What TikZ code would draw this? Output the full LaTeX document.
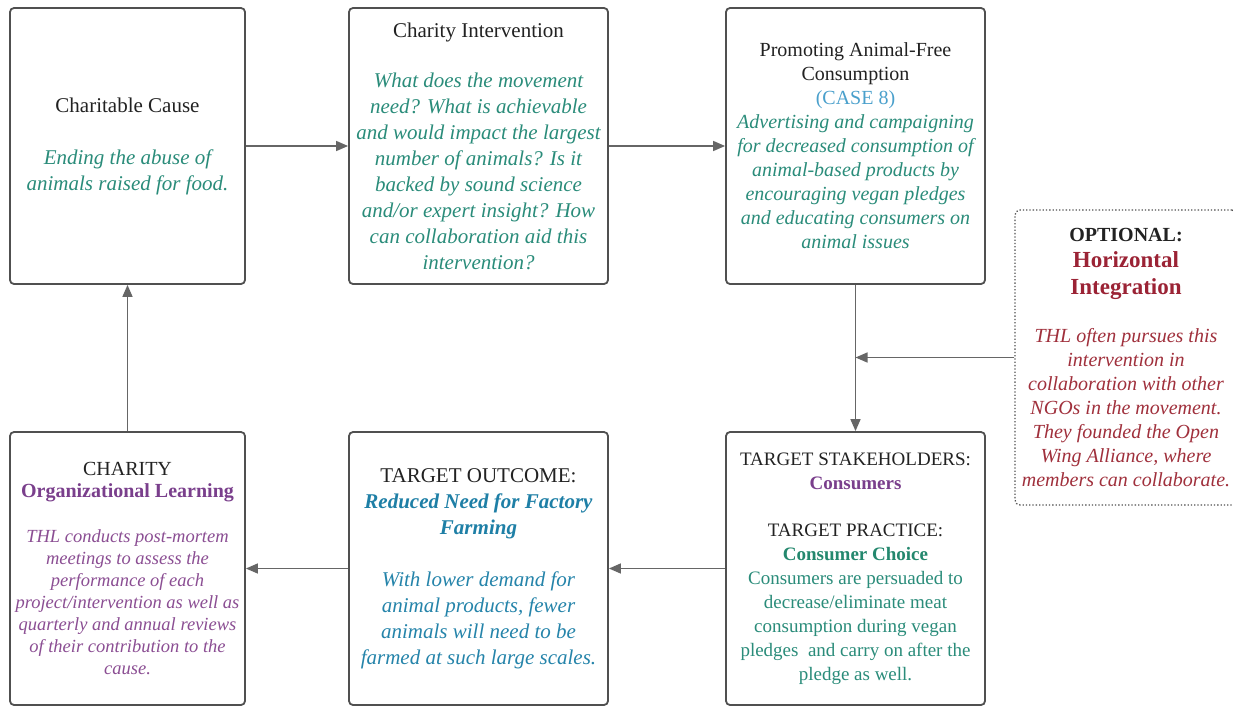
\documentclass[tikz,border=0pt]{standalone}
\usepackage{fontspec}
\setmainfont{LiberationSerif}[Extension=.ttf,
  UprightFont=*-Regular, BoldFont=*-Bold,
  ItalicFont=*-Italic, BoldItalicFont=*-BoldItalic]
\usetikzlibrary{arrows.meta}
\definecolor{boxgray}{HTML}{505050}
\definecolor{linegray}{HTML}{666666}
\definecolor{inkdark}{HTML}{222222}
\definecolor{tealtxt}{HTML}{2A8C7A}
\definecolor{tealbold}{HTML}{24886E}
\definecolor{casecol}{HTML}{4AA0CC}
\definecolor{bluebold}{HTML}{1E7FA6}
\definecolor{bluetxt}{HTML}{2584AA}
\definecolor{purplebold}{HTML}{7A3F8C}
\definecolor{purpletxt}{HTML}{8B4E93}
\definecolor{redbold}{HTML}{9B2335}
\definecolor{redtxt}{HTML}{A0303C}
\newcommand\tsz[2]{\fontsize{#1}{#2}\selectfont}
\newcommand\colit[2]{{\color{#1}\itshape #2}}
\newcommand\colbf[2]{{\color{#1}\bfseries #2}}
\newcommand\colbi[2]{{\color{#1}\bfseries\itshape #2}}
\newcommand\colup[2]{{\color{#1}#2}}
\begin{document}
\begin{tikzpicture}[x=1pt,y=-1pt,
  card/.style={draw=boxgray, line width=1.8pt, rounded corners=4pt, fill=white,
    align=center, inner sep=0pt, text=inkdark},
  optcard/.style={draw=boxgray, line width=1.3pt, dotted, rounded corners=5pt,
    fill=white, align=center, inner sep=0pt, text=inkdark},
  flow/.style={draw=linegray, line width=1.5pt, -{Triangle[length=12pt,width=10pt]}},
  widecard/.style={card, minimum width=259pt},
  narrowcard/.style={card, minimum width=235pt}]
\useasboundingbox (0,0) rectangle (1233,707);
\clip (0,0) rectangle (1233,707);
\fill[white] (0,0) rectangle (1233,707);

% top row
\node[narrowcard, minimum height=276pt, font=\tsz{21}{26}] (cause) at (127.5,146) {%
  Charitable Cause\\[26pt]
  \colit{tealtxt}{Ending the abuse of}\\
  \colit{tealtxt}{animals raised for food.}};

\node[widecard, minimum height=276pt, font=\tsz{21}{26}] (interv) at (478.5,146) {%
  Charity Intervention\\[24pt]
  \colit{tealtxt}{What does the movement}\\
  \colit{tealtxt}{need? What is achievable}\\
  \colit{tealtxt}{and would impact the largest}\\
  \colit{tealtxt}{number of animals? Is it}\\
  \colit{tealtxt}{backed by sound science}\\
  \colit{tealtxt}{and/or expert insight? How}\\
  \colit{tealtxt}{can collaboration aid this}\\
  \colit{tealtxt}{intervention?}};

\node[widecard, minimum height=276pt, font=\tsz{20}{24}] (promo) at (855.5,146) {%
  Promoting Animal-Free\\
  Consumption\\
  \colup{casecol}{(CASE 8)}\\
  \colit{tealtxt}{Advertising and campaigning}\\
  \colit{tealtxt}{for decreased consumption of}\\
  \colit{tealtxt}{animal-based products by}\\
  \colit{tealtxt}{encouraging vegan pledges}\\
  \colit{tealtxt}{and educating consumers on}\\
  \colit{tealtxt}{animal issues}};

% optional side box
\node[optcard, minimum width=222pt, minimum height=295pt, font=\tsz{20}{24}] (opt) at (1126,357.5) {%
  {\bfseries OPTIONAL:}\\[2pt]
  \colbf{redbold}{\tsz{23}{27}Horizontal}\\[3pt]
  \colbf{redbold}{\tsz{23}{27}Integration}\\[24pt]
  \colit{redtxt}{THL often pursues this}\\
  \colit{redtxt}{intervention in}\\
  \colit{redtxt}{collaboration with other}\\
  \colit{redtxt}{NGOs in the movement.}\\
  \colit{redtxt}{They founded the Open}\\
  \colit{redtxt}{Wing Alliance, where}\\
  \colit{redtxt}{members can collaborate.}};

% bottom row
\node[widecard, minimum height=273pt, font=\tsz{19}{24}] (stake) at (855.5,568.5) {%
  TARGET STAKEHOLDERS:\\
  \colbf{purplebold}{Consumers}\\[23pt]
  TARGET PRACTICE:\\
  \colbf{tealbold}{Consumer Choice}\\
  \colup{tealtxt}{Consumers are persuaded to}\\
  \colup{tealtxt}{decrease/eliminate meat}\\
  \colup{tealtxt}{consumption during vegan}\\
  \colup{tealtxt}{pledges\ \ and carry on after the}\\
  \colup{tealtxt}{pledge as well.}};

\node[widecard, minimum height=273pt, font=\tsz{21}{26}] (outcome) at (478.5,568.5) {%
  TARGET OUTCOME:\\
  \colbi{bluebold}{Reduced Need for Factory}\\
  \colbi{bluebold}{Farming}\\[26pt]
  \colit{bluetxt}{With lower demand for}\\
  \colit{bluetxt}{animal products, fewer}\\
  \colit{bluetxt}{animals will need to be}\\
  \colit{bluetxt}{farmed at such large scales.}};

\node[narrowcard, minimum height=273pt, font=\tsz{18.5}{22}] (learn) at (127.5,568.5) {%
  {\tsz{20}{24}CHARITY}\\
  \colbf{purplebold}{\tsz{20}{24}Organizational Learning}\\[23pt]
  \colit{purpletxt}{THL conducts post-mortem}\\
  \colit{purpletxt}{meetings to assess the}\\
  \colit{purpletxt}{performance of each}\\
  \colit{purpletxt}{project/intervention as well as}\\
  \colit{purpletxt}{quarterly and annual reviews}\\
  \colit{purpletxt}{of their contribution to the}\\
  \colit{purpletxt}{cause.}};

% connectors
\draw[flow] (cause.east) -- (interv.west);
\draw[flow] (interv.east) -- (promo.west);
\draw[flow] (promo.south) -- (stake.north);
\coordinate (join) at (opt.west -| promo.south);
\draw[flow] (opt.west) -- (join);
\draw[flow] (stake.west) -- (outcome.east);
\draw[flow] (outcome.west) -- (learn.east);
\draw[flow] (learn.north) -- (cause.south);
\end{tikzpicture}
\end{document}
